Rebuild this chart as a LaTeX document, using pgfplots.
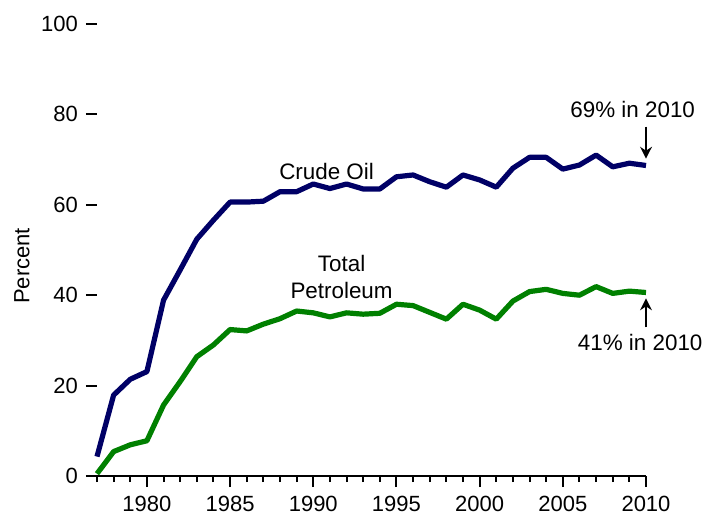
\documentclass[border=0pt]{standalone}
\usepackage{fontspec}
\setmainfont{Liberation Sans}
\usepackage{pgfplots}
\pgfplotsset{compat=1.18}
\usetikzlibrary{arrows.meta}
\definecolor{crude}{RGB}{0,0,102}
\definecolor{petro}{RGB}{0,128,0}
\begin{document}
\begin{tikzpicture}[font=\fontsize{11.2}{13.5}\selectfont]
\begin{axis}[
  at={(0,0)}, anchor=south west,
  scale only axis, width=274.5pt, height=226pt,
  xmin=1977, xmax=2010, ymin=0, ymax=100,
  axis x line*=bottom, axis y line*=left,
  y axis line style={draw=none},
  x axis line style={line width=1pt},
  xtick={1980,1985,...,2010},
  minor xtick={1977,...,2010},
  ytick={0,20,...,100},
  tick align=outside,
  major tick length=5.5pt, minor tick length=3pt,
  every tick/.style={black, line width=1pt},
  xticklabel style={/pgf/number format/1000 sep={}, yshift=-1pt},
  yticklabel style={xshift=-0.5pt},
  /pgf/number format/assume math mode=true,
  ticklabel style={font=\fontsize{11}{13}\selectfont},
  ylabel={Percent},
  ylabel style={at={(axis description cs:-0.1366,0.465)}, anchor=center, font=\fontsize{11}{13}\selectfont},
  clip=false,
]
\addplot[crude, line width=2.6pt, line join=round] coordinates {
(1977,4.3)(1978,17.9)(1979,21.4)(1980,23.1)(1981,38.9)(1982,45.6)(1983,52.4)(1984,56.6)
(1985,60.6)(1986,60.6)(1987,60.8)(1988,62.9)(1989,62.9)(1990,64.6)(1991,63.6)(1992,64.6)
(1993,63.5)(1994,63.5)(1995,66.2)(1996,66.6)(1997,65.1)(1998,63.9)(1999,66.6)(2000,65.5)
(2001,63.9)(2002,68.1)(2003,70.5)(2004,70.5)(2005,67.9)(2006,68.8)(2007,71.0)(2008,68.4)
(2009,69.2)(2010,68.7)};
\addplot[petro, line width=2.6pt, line join=round] coordinates {
(1977,0.5)(1978,5.4)(1979,6.9)(1980,7.8)(1981,15.7)(1982,20.9)(1983,26.4)(1984,29.0)
(1985,32.4)(1986,32.1)(1987,33.6)(1988,34.8)(1989,36.5)(1990,36.1)(1991,35.2)(1992,36.1)
(1993,35.8)(1994,36.0)(1995,38.0)(1996,37.7)(1997,36.2)(1998,34.7)(1999,38.0)(2000,36.7)
(2001,34.7)(2002,38.7)(2003,40.8)(2004,41.3)(2005,40.4)(2006,40.0)(2007,41.9)(2008,40.4)
(2009,40.9)(2010,40.6)};
\node at (axis cs:1990.8,67.3) {Crude Oil};
\node[align=center] at (axis cs:1991.7,44.0) {Total\\Petroleum};
\node at (axis cs:2009.2,81) {69\% in 2010};
\node at (axis cs:2009.65,29.6) {41\% in 2010};
\draw[-{Stealth[length=6pt,width=6pt,inset=2pt]}, line width=0.6pt] (axis cs:2010,77.3) -- (axis cs:2010,70.2);
\draw[-{Stealth[length=6pt,width=6pt,inset=2pt]}, line width=0.6pt] (axis cs:2010,32.9) -- (axis cs:2010,39.3);
\end{axis}
\pgfresetboundingbox
\useasboundingbox (-48.5pt,-19.5pt) rectangle (305pt,238pt);
\end{tikzpicture}
\end{document}
